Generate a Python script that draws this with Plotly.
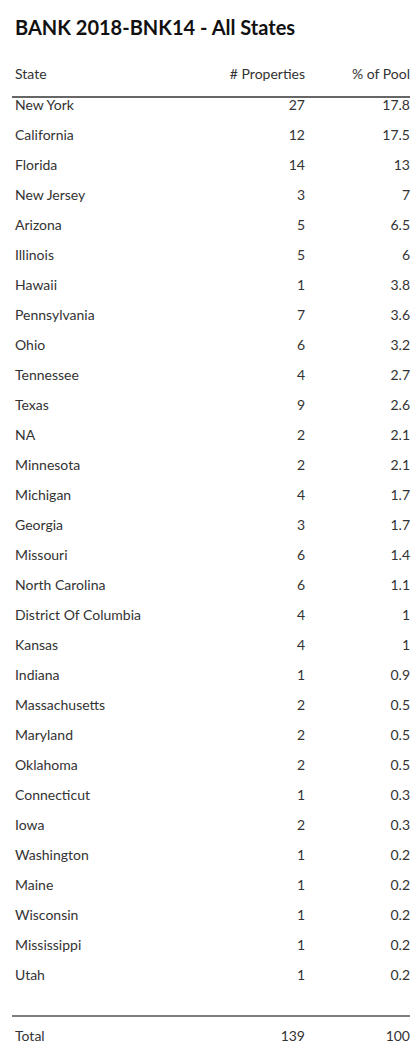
import plotly.graph_objects as go

states = ["New York", "California", "Florida", "New Jersey", "Arizona", "Illinois", "Hawaii",
          "Pennsylvania", "Ohio", "Tennessee", "Texas", "NA", "Minnesota", "Michigan", "Georgia",
          "Missouri", "North Carolina", "District Of Columbia", "Kansas", "Indiana",
          "Massachusetts", "Maryland", "Oklahoma", "Connecticut", "Iowa", "Washington",
          "Maine", "Wisconsin", "Mississippi", "Utah"]
properties = [27, 12, 14, 3, 5, 5, 1, 7, 6, 4, 9, 2, 2, 4, 3, 6, 6, 4, 4, 1, 2, 2, 2, 1, 2, 1, 1, 1, 1, 1]
pct_pool = ["17.8", "17.5", "13", "7", "6.5", "6", "3.8", "3.6", "3.2", "2.7", "2.6", "2.1", "2.1",
            "1.7", "1.7", "1.4", "1.1", "1", "1", "0.9", "0.5", "0.5", "0.5", "0.3", "0.3",
            "0.2", "0.2", "0.2", "0.2", "0.2"]
headers = ["State", "# Properties", "% of Pool"]
totals = ["Total", "139", "100"]

rows = list(range(len(states)))
y_head = -1.033
y_total = 31.033
font = dict(family="Lato, Open Sans, sans-serif", size=14, color="#333")

# page has an 8px body margin, so the figure is drawn 8px in from the corner
W, H = 404, 1041

fig = go.Figure()
fig.add_trace(go.Scatter(x=[15] * len(rows), y=rows, text=states, mode="text",
                         textposition="middle right", textfont=font))
fig.add_trace(go.Scatter(x=[305] * len(rows), y=rows, text=[str(p) for p in properties],
                         mode="text", textposition="middle left", textfont=font))
fig.add_trace(go.Scatter(x=[410] * len(rows), y=rows, text=pct_pool, mode="text",
                         textposition="middle left", textfont=font))
fig.add_trace(go.Scatter(x=[15, 305, 410], y=[y_head] * 3, text=headers, mode="text",
                         textposition=["middle right", "middle left", "middle left"], textfont=font))
fig.add_trace(go.Scatter(x=[15, 305, 410], y=[y_total] * 3, text=totals, mode="text",
                         textposition=["middle right", "middle left", "middle left"], textfont=font))

fig.add_shape(type="line", x0=12, x1=410, y0=-0.3, y1=-0.3, line=dict(color="#333", width=1.5))
fig.add_shape(type="line", x0=12, x1=410, y0=30.33, y1=30.33, line=dict(color="#555", width=1.5))

fig.update_layout(
    width=W, height=H, margin=dict(l=0, r=0, t=0, b=0),
    plot_bgcolor="white", paper_bgcolor="white", showlegend=False,
    title=dict(text="<b>BANK 2018-BNK14 - All States</b>", x=7 / W, xanchor="left",
               y=1 - 20 / H, yanchor="middle",
               font=dict(family="Lato, Open Sans, sans-serif", size=20, color="#111")),
    xaxis=dict(range=[8, 412], visible=False, fixedrange=True),
    yaxis=dict(range=[31.433, -3.267], visible=False, fixedrange=True),
)
fig.write_html("out.html")
